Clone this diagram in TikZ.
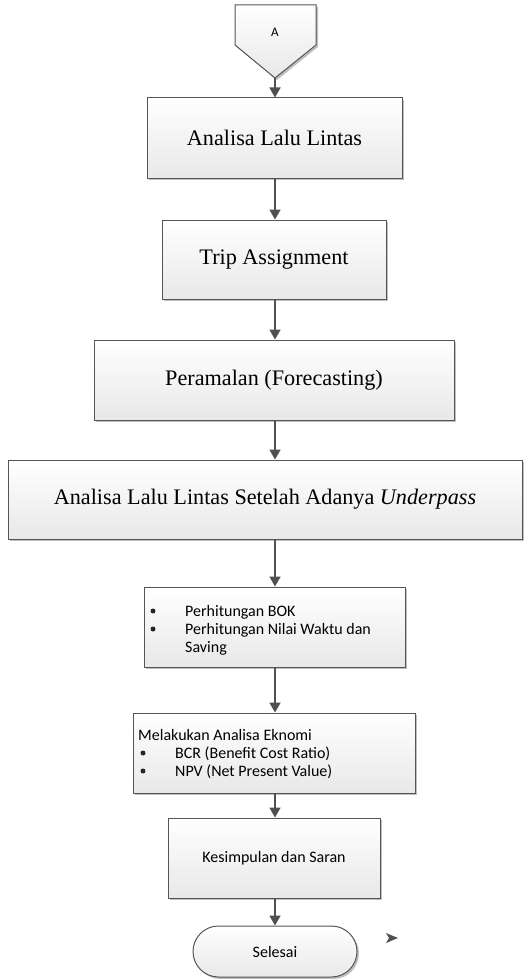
\documentclass[tikz,border=0pt]{standalone}
\usepackage{fontspec}
\setmainfont{Liberation Serif}
\newfontfamily\calib{Carlito}
\usetikzlibrary{arrows.meta,shadows}
\definecolor{edge}{HTML}{555555}
\definecolor{arr}{HTML}{505050}
\tikzset{
  x=1pt,y=-1pt,
  box/.style={draw=edge,line width=1pt,top color=white,bottom color=black!9,
    drop shadow={shadow xshift=2pt,shadow yshift=-2pt,opacity=0.25,fill=black},
    inner sep=0pt,align=center},
  serif/.style={font=\fontsize{22.2}{25}\selectfont},
  sans/.style={font=\calib\fontsize{16}{18.5}\selectfont},
  bul/.style={circle,fill=black!85,inner sep=0pt,minimum size=5pt},
  flow/.style={draw=arr,line width=1.6pt,-{Triangle[length=10pt,width=11pt]}},
}
\begin{document}
\begin{tikzpicture}
\useasboundingbox (0,0) rectangle (532,979);
% off-page connector A
\coordinate (pA1) at (235,5);
\coordinate (pA2) at (316,5);
\coordinate (pA3) at (316,45);
\coordinate (tip) at (275,78);
\coordinate (pA5) at (235,45);
\fill[black,opacity=0.25] ([shift={(2,2)}]pA1) -- ([shift={(2,2)}]pA2) -- ([shift={(2,2)}]pA3) -- ([shift={(2,2)}]tip) -- ([shift={(2,2)}]pA5) -- cycle;
\shade[top color=white,bottom color=black!9,draw=edge,line width=1pt] (pA1) -- (pA2) -- (pA3) -- (tip) -- (pA5) -- cycle;
\node[font=\calib\fontsize{13}{14}\selectfont] (A) at (275,32) {A};

\node[box,serif,minimum width=255pt,minimum height=80pt] (b1) at (274.5,138) {Analisa Lalu Lintas};
\node[box,serif,minimum width=224pt,minimum height=79pt] (b2) at (274,259.5) {Trip Assignment};
\node[box,serif,minimum width=360pt,minimum height=80pt] (b3) at (274,380) {Peramalan (Forecasting)};
\node[box,serif,minimum width=514pt,minimum height=79pt] (b4) at (265,499.5) {Analisa Lalu Lintas Setelah Adanya \textit{Underpass}};
\node[box,sans,minimum width=261pt,minimum height=80pt] (b5) at (274.5,627) {};
\node[box,sans,minimum width=282pt,minimum height=80pt] (b6) at (274,753) {};
\node[box,sans,minimum width=212pt,minimum height=80pt] (b7) at (274,858) {Kesimpulan dan Saran};
\node[box,sans,minimum width=164pt,minimum height=51pt,rounded corners=25.5pt] (end) at (275,951.5) {Selesai};

% texts in b5
\node[sans,anchor=base west,inner sep=0pt] (t51) at (185,616) {Perhitungan BOK};
\node[sans,anchor=base west,inner sep=0pt] (t52) at (185,634) {Perhitungan Nilai Waktu dan};
\node[sans,anchor=base west,inner sep=0pt] (t53) at (185,652.5) {Saving};
\node[bul] (d51) at (153,611) {};
\node[bul] (d52) at (153,629) {};
% texts in b6
\node[sans,anchor=base west,inner sep=0pt] (t60) at (138,740) {Melakukan Analisa Eknomi};
\node[sans,anchor=base west,inner sep=0pt] (t61) at (175,758) {BCR (Benefit Cost Ratio)};
\node[sans,anchor=base west,inner sep=0pt] (t62) at (175,776) {NPV (Net Present Value)};
\node[bul] (d61) at (143,753) {};
\node[bul] (d62) at (143,771) {};

% connectors
\draw[flow] (tip) -- (tip |- b1.north);
\draw[flow] (b1.south -| tip) -- (tip |- b2.north);
\draw[flow] (b2.south -| tip) -- (tip |- b3.north);
\draw[flow] (b3.south -| tip) -- (tip |- b4.north);
\draw[flow] (b4.south -| tip) -- (tip |- b5.north);
\draw[flow] (b5.south -| tip) -- (tip |- b6.north);
\draw[flow] (b6.south -| tip) -- (tip |- b7.north);
\draw[flow] (b7.south -| tip) -- (tip |- end.north);

% stray arrowhead
\coordinate (s1) at (386,933);
\coordinate (s2) at (398,938);
\coordinate (s3) at (386,943);
\fill[arr] (s1) -- (s2) -- (s3) -- (389,938) -- cycle;
\end{tikzpicture}
\end{document}
